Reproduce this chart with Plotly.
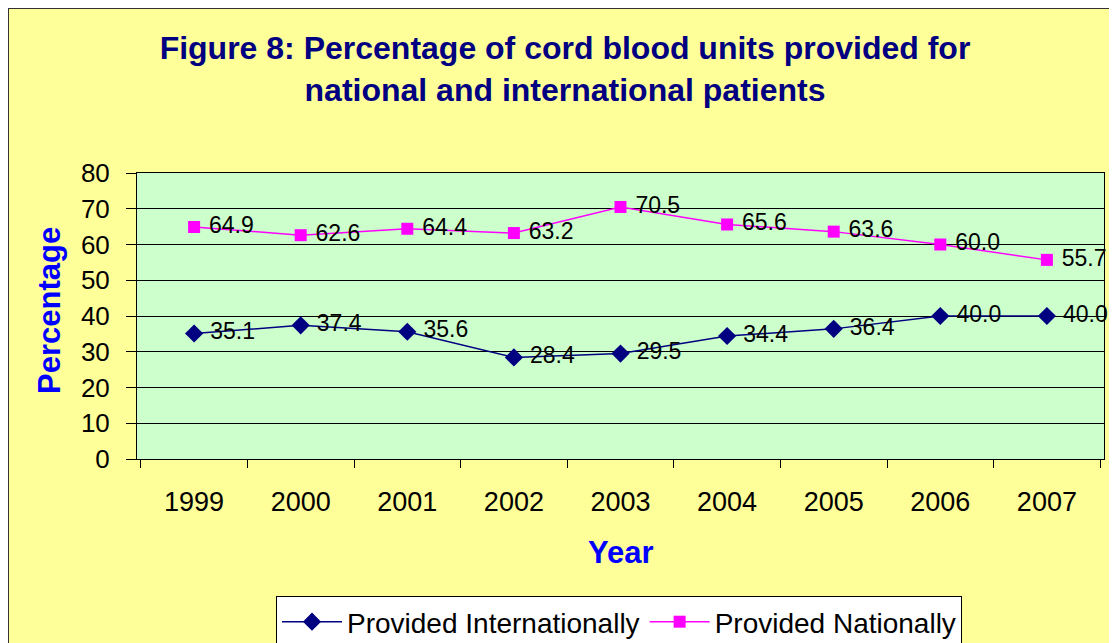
import plotly.graph_objects as go

years = ["1999", "2000", "2001", "2002", "2003", "2004", "2005", "2006", "2007"]
international = [35.1, 37.4, 35.6, 28.4, 29.5, 34.4, 36.4, 40.0, 40.0]
national = [64.9, 62.6, 64.4, 63.2, 70.5, 65.6, 63.6, 60.0, 55.7]
y_ticks = [0, 10, 20, 30, 40, 50, 60, 70, 80]

W, H = 1117, 643
OFF = 8  # page body margin
# plot area in page pixels: left 137, right 1104, top 173, bottom 459
L, R, T, B = 137 - OFF, W - (1104 - OFF), 173 - OFF, H - (459 - OFF)
PW, PH = W - L - R, H - T - B


def px(x_page):
    return (x_page - OFF - L) / PW


def py(y_page):
    return (H - B - (y_page - OFF)) / PH


FONT = "Liberation Sans, Arial, sans-serif"

fig = go.Figure()
fig.add_trace(go.Scatter(
    x=years, y=international, name="Provided Internationally",
    mode="lines+markers+text",
    line=dict(color="#000080", width=1.5),
    marker=dict(symbol="diamond", size=14, color="#000080"),
    text=[f" {v:.1f}" for v in international],
    textposition="middle right",
    textfont=dict(size=23, color="black", family=FONT),
    cliponaxis=False,
))
fig.add_trace(go.Scatter(
    x=years, y=national, name="Provided Nationally",
    mode="lines+markers+text",
    line=dict(color="#FF00FF", width=1.5),
    marker=dict(symbol="square", size=12, color="#FF00FF"),
    text=[f" {v:.1f}" for v in national],
    textposition="middle right",
    textfont=dict(size=23, color="black", family=FONT),
    cliponaxis=False,
))

shapes = [
    dict(type="rect", xref="paper", yref="paper", layer="below",
         x0=px(8), x1=px(1140), y0=py(670), y1=py(8),
         fillcolor="rgba(0,0,0,0)", line=dict(color="#333333", width=2)),
]

annotations = [
    dict(text="<b>Percentage</b>", xref="paper", yref="paper",
         x=px(49), y=py(311), textangle=-90, showarrow=False,
         font=dict(size=31, color="#0000FF", family=FONT),
         xanchor="center", yanchor="middle"),
    dict(text="<b>Year</b>", xref="paper", yref="paper",
         x=px(621), y=py(552), showarrow=False,
         font=dict(size=31, color="#0000FF", family=FONT),
         xanchor="center", yanchor="middle"),
]

fig.update_layout(
    width=W, height=H,
    margin=dict(l=L, r=R, t=T, b=B, autoexpand=False),
    paper_bgcolor="#FFFF99",
    plot_bgcolor="#CCFFCC",
    font=dict(family=FONT, color="black"),
    title=dict(
        text="<b>Figure 8: Percentage of cord blood units provided for<br>national and international patients</b>",
        x=px(565), xanchor="center", xref="paper",
        y=(H - (59 - OFF)) / H, yanchor="middle", yref="container",
        font=dict(size=32, color="#000080", family=FONT),
    ),
    shapes=shapes,
    annotations=annotations,
    showlegend=True,
    legend=dict(
        orientation="h", x=px(619), xanchor="center", y=py(596), yanchor="top",
        bgcolor="white", bordercolor="black", borderwidth=1,
        font=dict(size=28, color="black", family=FONT),
        itemwidth=60,
    ),
    xaxis=dict(
        type="category", categoryorder="array", categoryarray=years,
        tickson="boundaries", ticks="outside", ticklen=8, tickcolor="black",
        showline=True, linecolor="black", linewidth=1, mirror=True,
        showgrid=False, tickfont=dict(size=27, color="black", family=FONT),
        ticklabelstandoff=19, automargin=False,
    ),
    yaxis=dict(
        range=[0, 80], tickvals=y_ticks, ticks="outside", ticklen=10,
        tickcolor="black",
        showline=True, linecolor="black", linewidth=1, mirror=True,
        showgrid=True, gridcolor="black", gridwidth=1, zeroline=False,
        tickfont=dict(size=26, color="black", family=FONT),
        ticklabelstandoff=11, automargin=False,
    ),
)

fig.write_html("out.html")
